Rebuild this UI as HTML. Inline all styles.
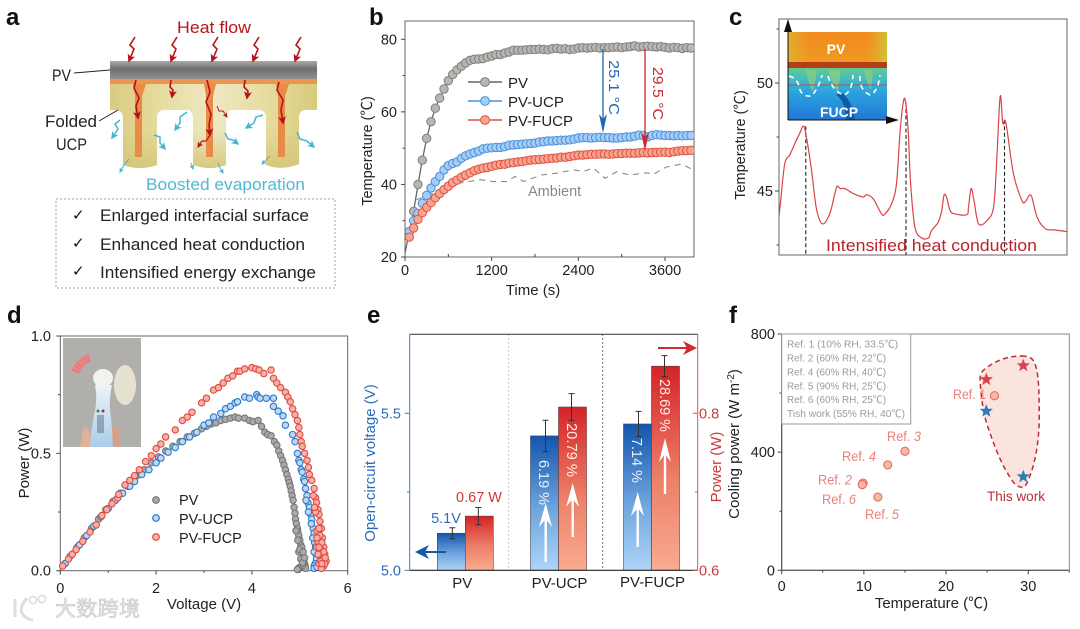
<!DOCTYPE html>
<html lang="en">
<head>
<meta charset="utf-8">
<title>Multi-panel figure: folded UCP photovoltaic cooling</title>
<style>
html,body{margin:0;padding:0;background:#fff;width:1080px;height:629px;overflow:hidden}
svg{display:block;filter:blur(.35px)}
text{font-family:"Liberation Sans","Noto Sans CJK SC",sans-serif}
</style>
</head>
<body>
<svg id="fig" xmlns="http://www.w3.org/2000/svg" width="1080" height="629" viewBox="0 0 1080 629">
<defs>
<marker id="hr" markerWidth="5" markerHeight="5" refX="4" refY="2.5" orient="auto"><path d="M0 0L5 2.5L0 5L1.2 2.5Z" fill="#b5121b"/></marker>
<marker id="ht" markerWidth="5" markerHeight="5" refX="4" refY="2.5" orient="auto"><path d="M0 0L5 2.5L0 5L1.2 2.5Z" fill="#45b5d2"/></marker>
<linearGradient id="pvg" x1="0" y1="0" x2="0" y2="1"><stop offset="0" stop-color="#a9a9a9"/><stop offset=".45" stop-color="#6f6f6f"/><stop offset="1" stop-color="#8f8f8f"/></linearGradient>
<linearGradient id="ucpg" x1="0" y1="0" x2="1" y2="0"><stop offset="0" stop-color="#d9cc80"/><stop offset=".25" stop-color="#e6dca0"/><stop offset=".5" stop-color="#eee8c4"/><stop offset=".75" stop-color="#e6dca0"/><stop offset="1" stop-color="#d8cb7c"/></linearGradient>
<linearGradient id="ucpShade" x1="0" y1="0" x2="0" y2="1"><stop offset=".55" stop-color="#d4c678" stop-opacity="0"/><stop offset="1" stop-color="#d4c678" stop-opacity=".9"/></linearGradient>
<linearGradient id="blueBar" x1="0" y1="0" x2="0" y2="1"><stop offset="0" stop-color="#1456ad"/><stop offset=".55" stop-color="#6fa5de"/><stop offset="1" stop-color="#aed4f8"/></linearGradient>
<linearGradient id="redBar" x1="0" y1="0" x2="0" y2="1"><stop offset="0" stop-color="#d52327"/><stop offset=".55" stop-color="#ec7f68"/><stop offset="1" stop-color="#f9ab90"/></linearGradient>
<linearGradient id="heatTop" x1="0" y1="0" x2="0" y2="1"><stop offset="0" stop-color="#f08a1c"/><stop offset="1" stop-color="#ef9a22"/></linearGradient>
<linearGradient id="heatCorner" x1="0" y1="0" x2="1" y2="0"><stop offset="0" stop-color="#d8c63a" stop-opacity=".55"/><stop offset=".22" stop-color="#d8c63a" stop-opacity="0"/><stop offset=".8" stop-color="#d8c63a" stop-opacity="0"/><stop offset="1" stop-color="#c8d03a" stop-opacity=".75"/></linearGradient>
<linearGradient id="heatBottom" x1="0" y1="0" x2="0" y2="1"><stop offset="0" stop-color="#63c98d"/><stop offset=".2" stop-color="#46bcc0"/><stop offset=".45" stop-color="#2ca4de"/><stop offset="1" stop-color="#1f78d6"/></linearGradient>
<linearGradient id="fanBody" x1="0" y1="0" x2="0" y2="1"><stop offset="0" stop-color="#eef3f8"/><stop offset="1" stop-color="#a9cdea"/></linearGradient>
<clipPath id="plotB"><rect x="405" y="21" width="289" height="236"/></clipPath>
<clipPath id="plotC"><rect x="779" y="19" width="288" height="236"/></clipPath>
<clipPath id="photoClip"><rect x="63" y="338" width="78" height="109"/></clipPath>
</defs>

<!-- panel letters -->
<text x="6" y="25" font-size="24" font-weight="700" fill="#111">a</text>
<text x="369" y="25" font-size="24" font-weight="700" fill="#111">b</text>
<text x="729" y="25" font-size="24" font-weight="700" fill="#111">c</text>
<text x="7" y="323" font-size="24" font-weight="700" fill="#111">d</text>
<text x="367" y="323" font-size="24" font-weight="700" fill="#111">e</text>
<text x="729" y="323" font-size="24" font-weight="700" fill="#111">f</text>

<!-- panel a -->
<g>
  <path fill="url(#ucpg)" d="M110 84H317V110H306Q299 110 299 118V164Q282 171 266 165V118Q266 110 258 110H233Q226 110 226 118V165Q210 171 193 165V118Q193 110 186 110H165Q157 110 157 118V165Q140 171 123 165V118Q123 110 115 110H110Z"/>
  <path fill="url(#ucpShade)" d="M110 84H317V110H306Q299 110 299 118V164Q282 171 266 165V118Q266 110 258 110H233Q226 110 226 118V165Q210 171 193 165V118Q193 110 186 110H165Q157 110 157 118V165Q140 171 123 165V118Q123 110 115 110H110Z"/>
  <rect x="110" y="79" width="207" height="5" fill="#ec9550"/>
  <path fill="#e98b47" d="M133 84H146L142 96V157H135V96Z"/>
  <path fill="#e98b47" d="M204 84H216L213 96V157H206V96Z"/>
  <path fill="#e98b47" d="M276 84H289L285 96V157H278V96Z"/>
  <rect x="110" y="61" width="207" height="18" fill="url(#pvg)"/>
  <line x1="74" y1="73" x2="110" y2="70" stroke="#222" stroke-width="1"/>
  <line x1="99" y1="121" x2="118" y2="110" stroke="#222" stroke-width="1"/>
  <text x="177" y="33" font-size="17" fill="#b8141c" textLength="74" lengthAdjust="spacingAndGlyphs">Heat flow</text>
  <text x="52" y="81" font-size="17" fill="#222" textLength="19" lengthAdjust="spacingAndGlyphs">PV</text>
  <text x="45" y="127" font-size="17" fill="#222" textLength="52" lengthAdjust="spacingAndGlyphs">Folded</text>
  <text x="56" y="150" font-size="17" fill="#222" textLength="31" lengthAdjust="spacingAndGlyphs">UCP</text>
  <text x="146" y="190" font-size="17" fill="#4db9d6" textLength="159" lengthAdjust="spacingAndGlyphs">Boosted evaporation</text>
  <g fill="none" stroke="#b5121b" stroke-width="1.6">
    <path marker-end="url(#hr)" d="M135 37L130 45L134 49L129 61"/>
    <path marker-end="url(#hr)" d="M177 37L172 45L176 49L171 61"/>
    <path marker-end="url(#hr)" d="M218 37L213 45L217 49L212 61"/>
    <path marker-end="url(#hr)" d="M259 37L254 45L258 49L253 61"/>
    <path marker-end="url(#hr)" d="M301 37L296 45L300 49L295 61"/>
    <path marker-end="url(#hr)" d="M136 80L134 88L139 98L136 106L138 118"/>
    <path marker-end="url(#hr)" d="M207 80L210 92L206 102L211 114L209 125L210 135"/>
    <path marker-end="url(#hr)" d="M279 82L277 90L283 100L281 110L283 123"/>
    <path marker-end="url(#hr)" d="M171 80L170 87L173 90L172 97"/>
    <path marker-end="url(#hr)" d="M245 80L244 87L248 91L247 98"/>
    <path stroke-width="1" marker-end="url(#hr)" d="M217 106L219 111L223 111L227 117"/>
    <path stroke-width="1.2" marker-end="url(#hr)" d="M210 135L206 141L202 141L198 147"/>
  </g>
  <g fill="none" stroke="#45b5d2" stroke-width="1.5">
    <path marker-end="url(#ht)" d="M120 120L115 124L118 129L112 138"/>
    <path marker-end="url(#ht)" d="M187 112L180 117L180 123L175 130"/>
    <path marker-end="url(#ht)" d="M263 115L256 117L254 123L246 128"/>
    <path marker-end="url(#ht)" d="M154 135L160 137L160 143L165 149"/>
    <path marker-end="url(#ht)" d="M225 133L228 139L233 140L238 144"/>
    <path marker-end="url(#ht)" d="M297 132L300 139L307 141L314 147"/>
    <path stroke-width="1" marker-end="url(#ht)" d="M129 159L124 165L120 172"/>
    <path stroke-width="1" marker-end="url(#ht)" d="M270 156L266 160L262 164"/>
    <path stroke-width="1" marker-end="url(#ht)" d="M191 163L193 169"/>
    <path stroke-width="1" marker-end="url(#ht)" d="M218 163L220 168L223 173"/>
  </g>
  <rect x="56" y="199" width="279" height="89" fill="none" stroke="#9aa5ad" stroke-width="1" stroke-dasharray="2 2"/>
  <text x="72" y="220" font-size="15" fill="#111" style="font-family:'DejaVu Sans',sans-serif">✓</text>
  <text x="72" y="248" font-size="15" fill="#111" style="font-family:'DejaVu Sans',sans-serif">✓</text>
  <text x="72" y="276" font-size="15" fill="#111" style="font-family:'DejaVu Sans',sans-serif">✓</text>
  <text x="100" y="221" font-size="17" fill="#222" textLength="209" lengthAdjust="spacingAndGlyphs">Enlarged interfacial surface</text>
  <text x="100" y="250" font-size="17" fill="#222" textLength="205" lengthAdjust="spacingAndGlyphs">Enhanced heat conduction</text>
  <text x="100" y="278" font-size="17" fill="#222" textLength="216" lengthAdjust="spacingAndGlyphs">Intensified energy exchange</text>
</g>

<!-- panel b -->
<g id="panelB">
  <rect x="405" y="21" width="289" height="236" fill="none" stroke="#666" stroke-width="1"/>
</g>
<g>
  <line x1="468" y1="82" x2="502" y2="82" stroke="#666" stroke-width="1.4"/>
  <circle cx="485" cy="82" r="4.4" fill="#b9b6b1" stroke="#7d7d7d" stroke-width="1"/>
  <line x1="468" y1="101" x2="502" y2="101" stroke="#4a90dc" stroke-width="1.4"/>
  <circle cx="485" cy="101" r="4.4" fill="#a3cdf5" stroke="#4a90dc" stroke-width="1"/>
  <line x1="468" y1="120" x2="502" y2="120" stroke="#e0503f" stroke-width="1.4"/>
  <circle cx="485" cy="120" r="4.4" fill="#f6a48f" stroke="#e0503f" stroke-width="1"/>
  <text x="508" y="88" font-size="15" fill="#222">PV</text>
  <text x="508" y="107" font-size="15" fill="#222">PV-UCP</text>
  <text x="508" y="126" font-size="15" fill="#222">PV-FUCP</text>
  <line x1="603" y1="49" x2="603" y2="126" stroke="#1f68b5" stroke-width="1.3"/>
  <path d="M599 114L603 133L607 114L603 119Z" fill="#1f68b5"/>
  <line x1="645" y1="49" x2="645" y2="144" stroke="#c9282d" stroke-width="1.3"/>
  <path d="M641 132L645 151L649 132L645 137Z" fill="#c9282d"/>
  <text transform="translate(609,60) rotate(90)" font-size="15" fill="#1f68b5" textLength="55" lengthAdjust="spacingAndGlyphs">25.1 °C</text>
  <text transform="translate(653,67) rotate(90)" font-size="15" fill="#c9282d" textLength="53" lengthAdjust="spacingAndGlyphs">29.5 °C</text>
  <text x="528" y="196" font-size="14.5" fill="#888">Ambient</text>
</g>

<!-- panel c -->
<g id="panelC">
  <rect x="779" y="19" width="288" height="236" fill="none" stroke="#666" stroke-width="1"/>
</g>
<g>
  <rect x="788" y="32" width="99" height="32" fill="url(#heatTop)"/>
  <rect x="788" y="32" width="99" height="36" fill="url(#heatCorner)"/>
  <rect x="788" y="68" width="99" height="52" fill="url(#heatBottom)"/>
  <rect x="788" y="62" width="99" height="6" fill="#b53e18"/>
  <path d="M836 95Q845 100 846 120H855Q852 100 842 93Z" fill="#135aa6"/>
  <path d="M806 70Q808 84 813 92L817 70ZM828 70Q834 88 838 92L841 70ZM864 70Q866 82 871 90L873 70Z" fill="#8fd07a" opacity=".7"/>
  <line x1="788" y1="85" x2="887" y2="85" stroke="#b24a5a" stroke-width="1"/>
  <path fill="none" stroke="#fff" stroke-width="1.6" stroke-dasharray="5 4" d="M789 76Q798 78 800 90Q803 97 812 96Q820 85 822 75M828 76Q833 92 844 95Q852 92 853 75M860 76Q859 90 870 95Q878 92 880 75"/>
  <text x="836" y="54" font-size="14" font-weight="700" fill="#fff" text-anchor="middle">PV</text>
  <text x="839" y="117" font-size="14" font-weight="700" fill="#fff" text-anchor="middle">FUCP</text>
  <line x1="788" y1="120" x2="788" y2="30" stroke="#111" stroke-width="1"/>
  <path d="M784 32L788 19L792 32Z" fill="#111"/>
  <line x1="788" y1="120" x2="888" y2="120" stroke="#111" stroke-width="1"/>
  <path d="M886 116L899 120L886 124Z" fill="#111"/>
  <text x="826" y="251" font-size="17" fill="#b8242c" textLength="211" lengthAdjust="spacingAndGlyphs">Intensified heat conduction</text>
</g>

<!-- panel d -->
<g clip-path="url(#photoClip)">
  <rect x="63" y="338" width="78" height="109" fill="#b0afac"/>
  <ellipse cx="125" cy="385" rx="11" ry="20" fill="#e6e1cf"/>
  <path d="M80 447L83 430Q87 424 90 434L100 447Z" fill="#e2b094"/>
  <path d="M108 447L113 428Q118 422 119 432L120 447Z" fill="#d89f82"/>
  <path d="M95 385Q98 400 94 415Q91 432 90 447H113Q112 425 110 410Q109 398 112 385Z" fill="url(#fanBody)"/>
  <ellipse cx="103" cy="378" rx="10" ry="9" fill="#f3f2ee"/>
  <path d="M75 372Q80 361 90 358" fill="none" stroke="#f07878" stroke-width="8" stroke-dasharray="3 .6"/>
  <circle cx="98" cy="411" r="1.5" fill="#2f8a4f"/>
  <circle cx="103" cy="411" r="1.5" fill="#94345a"/>
  <rect x="97" y="415" width="7" height="18" fill="#57718a" opacity=".5"/>
</g>
<g id="panelD">
  <rect x="60.3" y="336" width="287.4" height="234.7" fill="none" stroke="#666" stroke-width="1"/>
</g>
<g>
  <circle cx="156" cy="500" r="3.3" fill="#aaa" stroke="#777" stroke-width="1.2"/>
  <circle cx="156" cy="518" r="3.3" fill="#bcd8f2" stroke="#2a78cc" stroke-width="1.2"/>
  <circle cx="156" cy="537" r="3.3" fill="#f6b0a6" stroke="#e04a40" stroke-width="1.2"/>
  <text x="179" y="505" font-size="14.5" fill="#222">PV</text>
  <text x="179" y="524" font-size="14.5" fill="#222">PV-UCP</text>
  <text x="179" y="543" font-size="14.5" fill="#222">PV-FUCP</text>
</g>

<!-- panel e -->
<g id="panelE"></g>
<g>
  <text x="446" y="523" font-size="14.5" fill="#2a6ebb" text-anchor="middle">5.1V</text>
  <text x="479" y="502" font-size="14.5" fill="#d0383a" text-anchor="middle">0.67 W</text>
  <line x1="446" y1="552" x2="420" y2="552" stroke="#1558a8" stroke-width="2"/>
  <path d="M429 545L415 552L429 559L425 552Z" fill="#1558a8"/>
  <line x1="658" y1="348" x2="692" y2="348" stroke="#cf2b30" stroke-width="2"/>
  <path d="M683 341L697 348L683 355L687 348Z" fill="#cf2b30"/>
  <g stroke="#fff" stroke-width="2.4" fill="#fff">
    <line x1="545.7" y1="562" x2="545.7" y2="512"/>
    <path stroke="none" d="M539 527L545.7 503L552 527L545.7 519Z"/>
    <line x1="572.7" y1="537" x2="572.7" y2="492"/>
    <path stroke="none" d="M566 507L572.7 483L579 507L572.7 499Z"/>
    <line x1="637.7" y1="547" x2="637.7" y2="500"/>
    <path stroke="none" d="M631 516L637.7 492L644 516L637.7 508Z"/>
    <line x1="665" y1="494" x2="665" y2="446"/>
    <path stroke="none" d="M659 462L665 438L671 462L665 454Z"/>
  </g>
  <text transform="translate(539,460) rotate(90)" font-size="14.5" fill="#e8f0fa" textLength="45" lengthAdjust="spacingAndGlyphs">6.19 %</text>
  <text transform="translate(567,423) rotate(90)" font-size="14.5" fill="#fdeee8" textLength="54" lengthAdjust="spacingAndGlyphs">20.79 %</text>
  <text transform="translate(632,438) rotate(90)" font-size="14.5" fill="#e8f0fa" textLength="45" lengthAdjust="spacingAndGlyphs">7.14 %</text>
  <text transform="translate(660,379) rotate(90)" font-size="14.5" fill="#fdeee8" textLength="53" lengthAdjust="spacingAndGlyphs">28.69 %</text>
</g>

<!-- panel f -->
<g>
  <path fill="#fbe4dd" stroke="#bf2a35" stroke-width="1.5" stroke-dasharray="5 3.5" d="M1021.7 356C1029 356 1033 358 1035 364C1039 374 1039 392 1039.3 416.7C1039 440 1036 462 1028.3 480C1026 486 1024 488 1021.7 487.3C1016 487 1012 481 1008 474C1000 461 994 445 989 430C984 418 981 398 980 380C980 374 982 371 985 369C992 363 1005 356 1021.7 356Z"/>
</g>
<g id="panelF">
  <rect x="781.7" y="334" width="287.6" height="236.3" fill="none" stroke="#8a8a8a" stroke-width="1"/>
</g>
<g>
  <rect x="781.7" y="334" width="129" height="90" fill="#fff" stroke="#9a9a9a" stroke-width="1"/>
  <text x="787" y="347.5" font-size="10.5" fill="#9a9a9a" textLength="111" lengthAdjust="spacingAndGlyphs">Ref. 1  (10% RH, 33.5℃)</text>
  <text x="787" y="361.5" font-size="10.5" fill="#9a9a9a" textLength="99" lengthAdjust="spacingAndGlyphs">Ref. 2 (60% RH, 22℃)</text>
  <text x="787" y="375.5" font-size="10.5" fill="#9a9a9a" textLength="99" lengthAdjust="spacingAndGlyphs">Ref. 4 (60% RH, 40℃)</text>
  <text x="787" y="389.5" font-size="10.5" fill="#9a9a9a" textLength="99" lengthAdjust="spacingAndGlyphs">Ref. 5 (90% RH, 25℃)</text>
  <text x="787" y="403" font-size="10.5" fill="#9a9a9a" textLength="99" lengthAdjust="spacingAndGlyphs">Ref. 6 (60% RH, 25℃)</text>
  <text x="787" y="417" font-size="10.5" fill="#9a9a9a" textLength="118" lengthAdjust="spacingAndGlyphs">Tish work (55% RH, 40℃)</text>
  <text x="953" y="399" font-size="14" fill="#e8827a" textLength="33" lengthAdjust="spacingAndGlyphs">Ref. 1</text>
  <text x="887" y="441" font-size="14" fill="#e8827a" textLength="34" lengthAdjust="spacingAndGlyphs">Ref. <tspan font-style="italic">3</tspan></text>
  <text x="842" y="461" font-size="14" fill="#e8827a" textLength="34" lengthAdjust="spacingAndGlyphs">Ref. <tspan font-style="italic">4</tspan></text>
  <text x="818" y="484.5" font-size="14" fill="#e8827a" textLength="34" lengthAdjust="spacingAndGlyphs">Ref. <tspan font-style="italic">2</tspan></text>
  <text x="822" y="504" font-size="14" fill="#e8827a" textLength="34" lengthAdjust="spacingAndGlyphs">Ref. <tspan font-style="italic">6</tspan></text>
  <text x="865" y="519" font-size="14" fill="#e8827a" textLength="34" lengthAdjust="spacingAndGlyphs">Ref. <tspan font-style="italic">5</tspan></text>
  <text x="987" y="501" font-size="14" fill="#b5303a" textLength="58" lengthAdjust="spacingAndGlyphs">This work</text>
</g>

<!-- watermark -->
<g opacity=".95">
  <path fill="none" stroke="#dcdcdc" stroke-width="3" d="M15 599V617M27 598Q19 608 22 613Q25 619 33 620"/>
  <circle cx="33" cy="600" r="3.6" fill="none" stroke="#dcdcdc" stroke-width="1.6"/>
  <circle cx="42" cy="599" r="3.6" fill="none" stroke="#dcdcdc" stroke-width="1.6"/>
  <text x="55" y="616" font-size="21" fill="#e6e6e6" stroke="#c9c9c9" stroke-width=".7" textLength="85" style="font-family:'Noto Sans CJK SC','WenQuanYi Zen Hei',sans-serif">大数跨境</text>
</g>

<script>
// ---------- panel b data ----------
var bTimeStep = 60;
var bPvTemp = [27,32.6,40,46.7,52.7,57.3,61,63.8,66.3,68.6,70.3,71.6,72.6,73.5,74.2,74.5,74.6,74.7,75.1,75.4,75.8,75.8,76.2,76.5,77,77,77,77.1,77.2,77.2,77.3,77.2,77.1,77.4,77.5,77.3,77.4,77.2,77.3,77.6,77.7,77.6,77.7,77.8,77.6,77.7,77.7,77.8,77.9,77.7,77.9,78,78.2,77.9,78,78.1,78,77.9,78,77.8,77.6,77.8,77.7,77.5,77.7,77.6];
var bUcpTemp = [27,30,32,34.8,37,39,40.8,42.2,44,45.2,45.8,46.2,47.2,47.9,48.4,48.8,49.2,49.8,50,50.1,50.2,50.2,50.4,50.8,50.9,51,51.1,51.2,51.3,51.4,51.7,51.8,52,52,52.1,52.2,52.2,52.3,52.5,52.8,52.9,52.9,52.8,52.9,53,52.9,52.9,52.8,52.8,52.9,53.1,53.1,53.3,53.6,53.5,53.1,53.5,53.7,53.6,53.5,53.5,53.4,53.5,53.4,53.5,53.5];
var bFucpTemp = [25.5,28,30.4,32.2,33.7,35,36.3,37.5,38.6,39.5,40.5,41.2,42,42.6,43.2,43.8,44.2,44.5,44.7,45,45.3,45.5,45.6,45.9,46,46.2,46.3,46.5,46.7,46.8,46.9,47,47.1,47.2,47.3,47.5,47.5,47.7,47.9,48.1,48.1,48.2,48.3,48.3,48.4,48.4,48.3,48.4,48.5,48.5,48.6,48.6,48.6,48.7,48.8,48.7,48.8,48.8,48.9,48.9,48.8,49,49.2,49.3,49.3,49.4];
var bAmbient = [[160,35.8],[760,40.4],[1040,41.3],[1220,40.8],[1410,40.8],[1525,42.2],[1640,40.8],[1890,42.6],[2100,43.1],[2330,44],[2470,43.6],[2610,44.5],[2770,41.7],[2930,43.5],[3115,42.6],[3345,43.2],[3440,42.8],[3620,44.8],[3830,45.6],[3990,44]];
var bXTicks = [0,1200,2400,3600];
var bXMinor = [600,1800,3000];
var bYTicks = [20,40,60,80];
var bYMinor = [30,50,70];

// ---------- panel c data ----------
var cProfile = [[0,43.82],[0.6,44.57],[2,46.27],[3.7,46.66],[5.5,47.2],[7.2,47.67],[8.6,48],[9.7,47.36],[11.3,45.96],[13,44.18],[15.1,43.48],[17.6,43.94],[19.4,44.88],[20.2,45.22],[21.3,45.11],[22.9,45.11],[25.8,44.88],[29.2,44.72],[30.4,44.83],[32.7,44.64],[35.6,43.94],[36.8,43.94],[39.1,44.41],[40.8,45.34],[42,47.67],[43.2,49.15],[44,49.07],[44.9,47.67],[45.7,45.34],[47.2,43.32],[49.5,42.83],[51.9,42.83],[53,43.17],[55.3,43.56],[56.5,44.1],[57.3,44.8],[58.2,44.72],[59.4,44.1],[61.1,43.94],[65.2,43.9],[65.8,44.25],[66.7,45.11],[67.7,44.57],[69.3,43.48],[72.2,43.63],[74.5,44.25],[75.6,46.43],[76.8,49.38],[77.7,48.14],[78.8,48.14],[81.4,45.8],[84.3,44.57],[85.5,44.5],[87.5,44.8],[89.6,43.79],[92.5,43.25],[95.4,43.2],[100,43.12]];
var cPeakDrops = [[9.3,48],[44.1,49.1],[78.3,48.3]];
var cYTicks = [45,50];
var cYMinor = [42.5,47.5,52.5];

// ---------- panel d data ----------
var dPv = [[0.1,.03],[0.2,.06],[0.35,.1],[0.5,.14],[0.65,.18],[0.8,.22],[0.95,.26],[1.1,.295],[1.25,.33],[1.4,.36],[1.5,.38],[1.6,.405],[1.75,.43],[1.9,.46],[2.05,.485],[2.2,.51],[2.35,.53],[2.5,.55],[2.65,.57],[2.8,.585],[2.95,.605],[3.05,.615],[3.15,.625],[3.25,.63],[3.35,.64],[3.45,.645],[3.55,.65],[3.65,.655],[3.72,.65],[3.85,.65],[3.95,.64],[4.02,.635],[4.13,.64],[4.2,.615],[4.27,.59],[4.33,.58],[4.4,.575],[4.47,.55],[4.52,.535],[4.56,.51],[4.6,.49],[4.64,.47],[4.67,.45],[4.7,.43],[4.73,.41],[4.76,.39],[4.78,.375],[4.8,.36],[4.82,.34],[4.84,.32],[4.86,.3],[4.88,.27],[4.9,.245],[4.91,.22],[4.93,.2],[4.95,.18],[4.96,.165],[4.98,.15],[5,.13],[5.02,.11],[5.03,.09],[5.05,.075],[5.06,.06],[5.08,.045],[5.1,.03],[5.11,.02],[5.12,.01],[5.08,.035],[5.05,.02],[5,.015],[4.97,.01],[4.95,.005],[5.02,.05],[4.98,.08],[5.04,.1],[4.92,.17],[4.96,.13],[5,.09],[5.06,.035],[5.1,.055],[5.07,.08]];
var dUcp = [[0.1,.03],[0.25,.07],[0.4,.11],[0.55,.15],[0.7,.19],[0.85,.23],[1,.265],[1.15,.3],[1.3,.33],[1.45,.36],[1.55,.38],[1.7,.41],[1.85,.43],[2,.46],[2.1,.48],[2.25,.505],[2.4,.525],[2.55,.55],[2.7,.57],[2.85,.59],[3,.62],[3.1,.63],[3.2,.655],[3.35,.67],[3.45,.69],[3.55,.7],[3.65,.715],[3.7,.72],[3.85,.74],[3.95,.735],[4.1,.75],[4.13,.74],[4.17,.735],[4.3,.735],[4.45,.735],[4.45,.7],[4.55,.68],[4.65,.66],[4.7,.62],[4.85,.58],[4.9,.55],[4.95,.5],[4.98,.47],[5,.46],[5.03,.43],[5.05,.42],[5.08,.39],[5.1,.38],[5.12,.35],[5.15,.32],[5.17,.29],[5.2,.27],[5.23,.24],[5.25,.22],[5.28,.18],[5.3,.16],[5.31,.12],[5.33,.1],[5.34,.07],[5.35,.05],[5.32,.03],[5.3,.02],[5.3,.01],[5.36,.015],[5.13,.3],[5.18,.25],[5.24,.2],[5.27,.14],[5.3,.08]];
var dFucp = [[0.05,.02],[0.17,.05],[0.25,.07],[0.33,.09],[0.47,.125],[0.62,.165],[0.75,.195],[0.87,.235],[0.97,.26],[1.08,.285],[1.2,.31],[1.22,.325],[1.35,.365],[1.45,.385],[1.55,.405],[1.65,.43],[1.78,.465],[1.9,.49],[2,.52],[2.1,.54],[2.2,.57],[2.4,.6],[2.55,.64],[2.65,.655],[2.75,.675],[2.95,.715],[3.05,.735],[3.2,.77],[3.3,.78],[3.4,.8],[3.5,.82],[3.6,.83],[3.7,.85],[3.75,.85],[3.85,.86],[4,.865],[4.08,.86],[4.15,.855],[4.25,.84],[4.4,.855],[4.45,.82],[4.52,.8],[4.6,.78],[4.7,.76],[4.75,.74],[4.8,.72],[4.85,.69],[4.9,.665],[4.95,.64],[4.98,.61],[5,.58],[5.03,.55],[5.05,.53],[5.1,.5],[5.15,.47],[5.18,.44],[5.2,.41],[5.25,.385],[5.3,.35],[5.33,.31],[5.35,.29],[5.38,.26],[5.4,.24],[5.42,.21],[5.45,.18],[5.47,.14],[5.5,.1],[5.52,.07],[5.55,.04],[5.5,.02],[5.45,.01],[5.42,.06],[5.38,.12],[5.36,.17],[5.44,.09],[5.4,.03],[5.48,.05],[5.52,.03],[5.42,.15],[5.35,.1],[5.33,.25],[5.4,.18],[5.46,.12],[5.38,.07],[5.44,.04],[5.5,.08],[5.36,.14],[5.4,.1],[5.46,.03],[5.53,.055],[5.28,.32],[5.31,.27]];
var dXTicks = [0,2,4,6];
var dXMinor = [1,3,5];
var dYTicks = [0,0.5,1];
var dYMinor = [0.25,0.75];

// ---------- panel e data ----------
var eCategories = ['PV','PV-UCP','PV-FUCP'];
var eVoltage = [5.118,5.428,5.466];
var eVoltageErr = [0.0175,0.05,0.04];
var ePower = [0.669,0.808,0.86];
var ePowerErr = [0.011,0.017,0.0134];
var eLeftTicks = [5.0,5.5];
var eLeftMinor = [5.25];
var eRightTicks = [0.6,0.8];
var eRightMinor = [0.7];

// ---------- panel f data ----------
var fRefTemp = [25.9,15,12.9,9.9,9.8,11.7];
var fRefPower = [591,403,357,295,290,248];
var fRedStarTemp = [24.9,29.4];
var fRedStarPower = [646,693];
var fBlueStarTemp = [24.9,29.4];
var fBlueStarPower = [539,317];
var fXTicks = [0,10,20,30];
var fXMinor = [5,15,25,35];
var fYTicks = [0,400,800];
var fYMinor = [200,600];

// ---------- axis functions ----------
function bX(t){return 405+t*(86.67/1200);}
function bY(v){return 257-(v-20)*(217.7/60);}
function cX(p){return 779+p*2.88;}
function cY(v){return 83-(v-50)*21.6;}
function dX(v){return 60.3+v*(287.4/6);}
function dY(p){return 570.7-p*234.7;}
function eLeftY(v){return 570.3-(v-5)*314;}
function eRightY(v){return 570.3-(v-0.6)*785;}
function fX(v){return 781.7+v*8.217;}
function fY(v){return 570.3-v*0.2954;}

// ---------- helpers ----------
var NS = 'http://www.w3.org/2000/svg';
function make(tag, attrs, parent){
  var el = document.createElementNS(NS, tag);
  for (var k in attrs) el.setAttribute(k, attrs[k]);
  parent.appendChild(el);
  return el;
}
function drawTick(parent, x1, y1, x2, y2, color){
  var el = make('line', {x1:x1, y1:y1, x2:x2, y2:y2, stroke:color || '#444', 'stroke-width':1}, parent);
  
  
}
function drawLabel(parent, x, y, str, size, color, anchor, name, rotate){
  var el = make('text', {x:x, y:y, 'font-size':size, fill:color, 'text-anchor':anchor}, parent);
  if (rotate) el.setAttribute('transform', 'rotate(' + rotate + ' ' + x + ' ' + y + ')');
  el.textContent = str;
  
  
  return el;
}
function fmt1(v){return v.toFixed(1);}
function starPath(cx, cy, R){
  var d = '';
  for (var i = 0; i < 10; i++){
    var r = i % 2 ? R * 0.42 : R;
    var a = -Math.PI / 2 + i * Math.PI / 5;
    d += (i ? 'L' : 'M') + (cx + r * Math.cos(a)).toFixed(2) + ' ' + (cy + r * Math.sin(a)).toFixed(2);
  }
  return d + 'Z';
}
function seriesPoints(values){
  return values.map(function(v, i){return bX((i + 1) * bTimeStep).toFixed(2) + ',' + bY(v).toFixed(2);}).join(' ');
}
function smoothPath(pts){
  var d = 'M' + pts[0][0].toFixed(2) + ' ' + pts[0][1].toFixed(2);
  for (var i = 0; i < pts.length - 1; i++){
    var p0 = pts[Math.max(i - 1, 0)], p1 = pts[i], p2 = pts[i + 1], p3 = pts[Math.min(i + 2, pts.length - 1)];
    d += 'C' + (p1[0] + (p2[0] - p0[0]) / 6).toFixed(2) + ' ' + (p1[1] + (p2[1] - p0[1]) / 6).toFixed(2) + ' ' +
         (p2[0] - (p3[0] - p1[0]) / 6).toFixed(2) + ' ' + (p2[1] - (p3[1] - p1[1]) / 6).toFixed(2) + ' ' +
         p2[0].toFixed(2) + ' ' + p2[1].toFixed(2);
  }
  return d;
}

// ---------- panel b ----------
(function(){
  var g = document.getElementById('panelB');
  var clip = make('g', {'clip-path':'url(#plotB)'}, g);
  
  
  var amb = make('polyline', {points:bAmbient.map(function(p){return bX(p[0]).toFixed(2)+','+bY(p[1]).toFixed(2);}).join(' '), fill:'none', stroke:'#8a8a8a', 'stroke-width':1.1, 'stroke-dasharray':'6 5'}, clip);
  
  
  var line = make('polyline', {points:'405,253 ' + seriesPoints(bPvTemp), fill:'none', stroke:'#666', 'stroke-width':1.3}, clip);
  
  
  bPvTemp.forEach(function(v, i){
    var el = make('circle', {cx:bX((i+1)*bTimeStep), cy:bY(v), r:4.2, fill:'#b9b6b1', stroke:'#7f7f7f', 'stroke-width':1}, clip);
    
    
  });
  bUcpTemp.forEach(function(v, i){
    var el = make('circle', {cx:bX((i+1)*bTimeStep), cy:bY(v), r:4.2, fill:'#a3cdf5', stroke:'#4a90dc', 'stroke-width':1}, clip);
    
    
  });
  bFucpTemp.forEach(function(v, i){
    var el = make('circle', {cx:bX((i+1)*bTimeStep), cy:bY(v), r:4.2, fill:'#f6a48f', stroke:'#e0503f', 'stroke-width':1}, clip);
    
    
  });
  bXTicks.forEach(function(v){
    drawTick(g, bX(v), 257, bX(v), 261);
    drawLabel(g, bX(v), 275, String(v), 14.5, '#222', 'middle', 'x-tick-label-b');
  });
  bXMinor.forEach(function(v){drawTick(g, bX(v), 257, bX(v), 254);});
  bYTicks.forEach(function(v){
    drawTick(g, 405, bY(v), 401, bY(v));
    drawLabel(g, 397, bY(v) + 5, String(v), 14.5, '#222', 'end', 'y-tick-label-b');
  });
  bYMinor.forEach(function(v){drawTick(g, 405, bY(v), 402.5, bY(v));});
  drawLabel(g, 533, 295, 'Time (s)', 15, '#222', 'middle', 'x-axis-title-b');
  drawLabel(g, 372, 151, 'Temperature (℃)', 14.5, '#222', 'middle', 'y-axis-title-b', -90);
})();

// ---------- panel c ----------
(function(){
  var g = document.getElementById('panelC');
  var clip = make('g', {'clip-path':'url(#plotC)'}, g);
  
  
  cPeakDrops.forEach(function(p){
    var el = make('line', {x1:cX(p[0]), y1:cY(p[1]), x2:cX(p[0]), y2:255, stroke:'#222', 'stroke-width':1.1, 'stroke-dasharray':'4 2.5'}, clip);
    
    
  });
  var line = make('path', {d:smoothPath(cProfile.map(function(p){return [cX(p[0]), cY(p[1])];})), fill:'none', stroke:'#d8434a', 'stroke-width':1.2, 'stroke-linejoin':'round'}, clip);
  
  
  cYTicks.forEach(function(v){
    drawTick(g, 779, cY(v), 775, cY(v));
    drawLabel(g, 773, cY(v) + 5, String(v), 14.5, '#222', 'end', 'y-tick-label-c');
  });
  cYMinor.forEach(function(v){drawTick(g, 779, cY(v), 776.5, cY(v));});
  drawLabel(g, 745, 145, 'Temperature (℃)', 14.5, '#222', 'middle', 'y-axis-title-c', -90);
})();

// ---------- panel d ----------
(function(){
  var g = document.getElementById('panelD');
  dPv.forEach(function(p){
    var el = make('circle', {cx:dX(p[0]), cy:dY(p[1]), r:3.2, fill:'#aaa', stroke:'#777', 'stroke-width':1.1}, g);
    
    
  });
  dUcp.forEach(function(p){
    var el = make('circle', {cx:dX(p[0]), cy:dY(p[1]), r:3.2, fill:'#bcd8f2', stroke:'#2a78cc', 'stroke-width':1.1}, g);
    
    
  });
  dFucp.forEach(function(p){
    var el = make('circle', {cx:dX(p[0]), cy:dY(p[1]), r:3.2, fill:'#f6b0a6', stroke:'#e04a40', 'stroke-width':1.1}, g);
    
    
  });
  dXTicks.forEach(function(v){
    drawTick(g, dX(v), 570.7, dX(v), 574.7);
    drawLabel(g, dX(v), 593, String(v), 14.5, '#222', 'middle', 'x-tick-label-d');
  });
  dXMinor.forEach(function(v){drawTick(g, dX(v), 570.7, dX(v), 573);});
  dYTicks.forEach(function(v){
    drawTick(g, 60.3, dY(v), 56.3, dY(v));
    drawLabel(g, 51, dY(v) + 5, fmt1(v), 14.5, '#222', 'end', 'y-tick-label-d');
  });
  dYMinor.forEach(function(v){drawTick(g, 60.3, dY(v), 58, dY(v));});
  drawLabel(g, 204, 609, 'Voltage (V)', 15, '#222', 'middle', 'x-axis-title-d');
  drawLabel(g, 29, 463, 'Power (W)', 15, '#222', 'middle', 'y-axis-title-d', -90);
})();

// ---------- panel e ----------
(function(){
  var g = document.getElementById('panelE');
  var barW = 28;
  var groupX = [437.3, 530.5, 623.5];
  eCategories.forEach(function(c, i){
    var x0 = groupX[i];
    var top1 = eLeftY(eVoltage[i]);
    var b1 = make('rect', {x:x0, y:top1, width:barW, height:570.3-top1, fill:'url(#blueBar)', stroke:'#3d4a5c', 'stroke-width':.6}, g);
    
    
    var top2 = eRightY(ePower[i]);
    var b2 = make('rect', {x:x0+barW, y:top2, width:barW, height:570.3-top2, fill:'url(#redBar)', stroke:'#5c3d3d', 'stroke-width':.6}, g);
    
    
    var xv = x0 + barW/2 + 1;
    var e1 = make('path', {d:'M'+(xv-3)+' '+eLeftY(eVoltage[i]+eVoltageErr[i])+'h6M'+xv+' '+eLeftY(eVoltage[i]+eVoltageErr[i])+'V'+eLeftY(eVoltage[i]-eVoltageErr[i])+'M'+(xv-3)+' '+eLeftY(eVoltage[i]-eVoltageErr[i])+'h6', fill:'none', stroke:'#333', 'stroke-width':1}, g);
    
    
    var xp = x0 + barW*1.5 - 1;
    var e2 = make('path', {d:'M'+(xp-3)+' '+eRightY(ePower[i]+ePowerErr[i])+'h6M'+xp+' '+eRightY(ePower[i]+ePowerErr[i])+'V'+eRightY(ePower[i]-ePowerErr[i])+'M'+(xp-3)+' '+eRightY(ePower[i]-ePowerErr[i])+'h6', fill:'none', stroke:'#333', 'stroke-width':1}, g);
    
    
    drawLabel(g, x0 + barW + (i === 0 ? -3 : 1), i === 0 ? 588 : (i === 1 ? 588 : 587), c, 15, '#222', 'middle', 'category-label');
  });
  var sep1 = make('line', {x1:508.7, y1:334, x2:508.7, y2:570, stroke:'#c8c8c8', 'stroke-width':1, 'stroke-dasharray':'2 2'}, g);
  
  
  var sep2 = make('line', {x1:602.7, y1:334, x2:602.7, y2:570, stroke:'#6a7080', 'stroke-width':1, 'stroke-dasharray':'2 2'}, g);
  
  
  var top = make('line', {x1:409.7, y1:334.3, x2:697.7, y2:334.3, stroke:'#333', 'stroke-width':1}, g);
  
  
  var bottom = make('line', {x1:409.7, y1:570.3, x2:697.7, y2:570.3, stroke:'#222', 'stroke-width':1.2}, g);
  
  
  var left = make('line', {x1:409.7, y1:334.3, x2:409.7, y2:570.3, stroke:'#3f7fc4', 'stroke-width':1}, g);
  
  
  var right = make('line', {x1:697.7, y1:334.3, x2:697.7, y2:570.3, stroke:'#d65a5a', 'stroke-width':1}, g);
  
  
  eLeftTicks.forEach(function(v){
    drawTick(g, 409.7, eLeftY(v), 404.7, eLeftY(v), '#3f7fc4');
    drawLabel(g, 401, eLeftY(v) + 5, fmt1(v), 14.5, '#2a6ebb', 'end', 'left-tick-label-e');
  });
  eLeftMinor.forEach(function(v){drawTick(g, 409.7, eLeftY(v), 407, eLeftY(v), '#3f7fc4');});
  eRightTicks.forEach(function(v){
    drawTick(g, 697.7, eRightY(v), 692.7, eRightY(v), '#d65a5a');
    drawLabel(g, 699, eRightY(v) + 5, fmt1(v), 14.5, '#d0383a', 'start', 'right-tick-label-e');
  });
  eRightMinor.forEach(function(v){drawTick(g, 697.7, eRightY(v), 695, eRightY(v), '#d65a5a');});
  drawLabel(g, 375, 463, 'Open-circuit voltage (V)', 15, '#2a6ebb', 'middle', 'left-axis-title-e', -90);
  drawLabel(g, 721, 467, 'Power (W)', 15, '#d0383a', 'middle', 'right-axis-title-e', -90);
})();

// ---------- panel f ----------
(function(){
  var g = document.getElementById('panelF');
  fRefTemp.forEach(function(v, i){
    var el = make('circle', {cx:fX(v), cy:fY(fRefPower[i]), r:4.1, fill:'#f8b7a5', stroke:'#e2695f', 'stroke-width':1}, g);
    
    
  });
  fRedStarTemp.forEach(function(v, i){
    var el = make('path', {d:starPath(fX(v), fY(fRedStarPower[i]), 7), fill:'#d9434f'}, g);
    
    
  });
  fBlueStarTemp.forEach(function(v, i){
    var el = make('path', {d:starPath(fX(v), fY(fBlueStarPower[i]), 7), fill:'#2f7db8'}, g);
    
    
  });
  var axL = make('line', {x1:781.7, y1:334, x2:781.7, y2:570.3, stroke:'#444', 'stroke-width':1}, g);
  
  
  var axB = make('line', {x1:781.7, y1:570.3, x2:1069.3, y2:570.3, stroke:'#444', 'stroke-width':1}, g);
  
  
  fXTicks.forEach(function(v){
    drawTick(g, fX(v), 570.3, fX(v), 574.3);
    drawLabel(g, fX(v), 591, String(v), 14.5, '#222', 'middle', 'x-tick-label-f');
  });
  fXMinor.forEach(function(v){drawTick(g, fX(v), 570.3, fX(v), 572.6);});
  fYTicks.forEach(function(v){
    drawTick(g, 781.7, fY(v), 777.7, fY(v));
    drawLabel(g, 775, fY(v) + 5, String(v), 14.5, '#222', 'end', 'y-tick-label-f');
  });
  fYMinor.forEach(function(v){drawTick(g, 781.7, fY(v), 779.4, fY(v));});
  drawLabel(g, 931.5, 608, 'Temperature (℃)', 15, '#222', 'middle', 'x-axis-title-f');
  var t = drawLabel(g, 739, 444, 'Cooling power (W m', 15, '#222', 'middle', 'y-axis-title-f', -90);
  var sup = make('tspan', {dy:-5, 'font-size':10}, t);
  sup.textContent = '-2';
  
  
  var close = make('tspan', {dy:5}, t);
  close.textContent = ')';
  
  
})();
</script>
</svg>
</body>
</html>
